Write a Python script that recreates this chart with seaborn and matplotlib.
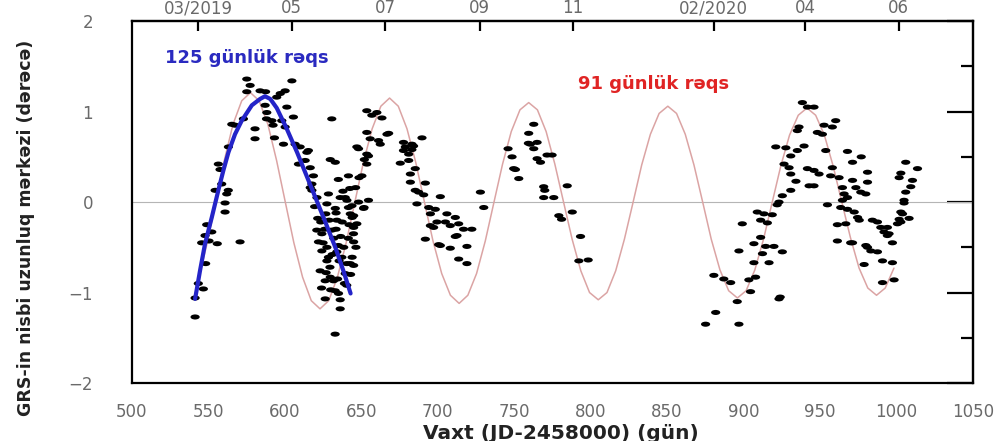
import matplotlib
matplotlib.use("Agg")
import matplotlib.pyplot as plt
import seaborn as sns
from matplotlib.path import Path
from matplotlib.transforms import Affine2D
from matplotlib.ticker import MultipleLocator

obs_x = [
    541.3, 541.3, 543.4, 546.7, 548.2, 545.6, 547.8, 548.9, 550.4, 552.2, 555.8, 570.7,
    554.4, 558.7, 563.0, 562.0, 560.9, 560.9, 556.5, 557.6, 563.1, 565.3, 567.4, 572.9,
    575.1, 577.3, 575.1, 583.8, 587.4, 594.7, 600.2, 587.1, 588.2, 591.5, 588.0, 592.3,
    580.5, 580.5, 593.2, 599.1, 604.6, 597.0, 601.3, 605.6, 600.2, 598.0, 610.0, 614.4,
    608.9, 616.6, 617.7, 617.7, 606.7, 613.3, 615.4, 618.7, 616.6,
    # dense cluster around 620-660
    630.7, 629.7, 633.0, 641.6, 647.1, 653.6, 655.8, 654.7, 653.6, 648.5, 651.8, 646.3,
    639.5, 641.6, 644.0, 645.0, 645.0, 644.0, 645.0, 639.5, 628.5, 627.5, 626.8, 633.0,
    634.0, 630.7, 624.2, 622.0, 624.2, 635.0, 637.3, 628.5, 623.1, 626.4, 629.7, 632.9,
    635.1, 626.4, 636.2, 636.2, 632.9, 631.8, 640.5, 627.5, 642.8, 634.0, 644.9, 620.9,
    647.1, 636.2, 640.6, 643.9, 648.2, 651.5, 654.7, 642.8, 645.0, 650.4, 656.9, 653.6,
    662.4, 666.8, 653.6, 648.2, 652.0, 619.5, 621.5, 623.5, 625.0, 626.0, 627.5, 629.0,
    629.5, 631.0, 632.0, 633.5, 634.5, 635.5, 636.5, 637.5, 638.5, 639.0, 640.5, 641.5,
    642.0, 643.0, 646.5, 624.0, 627.0, 630.0, 633.5, 638.0, 642.5, 635.0, 621.0,
    # descending branch 660-730
    660.2, 663.5, 667.9, 661.3, 677.6, 683.1, 689.7, 677.6, 683.1, 675.5, 681.0, 685.3,
    682.1, 682.1, 685.3, 691.9, 690.8, 686.4, 701.7, 694.1, 698.4, 695.2, 699.5, 695.2,
    691.9, 700.6, 706.0, 711.5, 708.2, 713.7, 711.5, 722.3, 708.2, 719.1, 713.7, 719.1,
    727.9, 730.1, 678.8, 684.2, 681.0, 687.5, 697.3, 705.0, 716.9, 701.7, 712.6,
    # 740-800
    746.0, 748.6, 750.8, 753.0, 762.8, 759.5, 762.8, 760.6, 765.0, 759.3, 765.0, 767.2,
    771.5, 774.8, 769.3, 770.0, 769.3, 775.9, 784.7, 779.2, 781.0, 788.0, 793.4, 792.3,
    798.4, 749.7,
    # 870-930
    909.0, 913.4, 918.8, 911.2, 915.6, 899.2, 911.2, 906.8, 914.5, 919.9, 912.4, 925.4,
    897.0, 906.8, 916.7, 880.6, 887.1, 891.6, 903.5, 907.9, 904.6, 895.9, 923.2, 881.8,
    875.2, 897.0, 924.0,
    # 920-1015
    938.5, 936.3, 935.2, 941.8, 921.1, 927.7, 930.9, 935.2, 939.6, 926.5, 929.8, 930.9,
    934.3, 930.9, 925.4, 923.2, 922.0, 941.8, 942.9, 946.1, 960.3, 952.7, 958.1, 948.3,
    951.6, 968.0, 977.0, 971.3, 953.8, 946.1, 949.4, 958.1, 957.0, 962.5, 946.1, 981.1,
    981.1, 971.3, 964.7, 973.5, 976.7, 980.0, 965.8, 968.0, 964.7, 954.9, 963.6, 968.0,
    972.4, 974.6, 975.7, 961.4, 966.9, 984.3, 987.6, 989.8, 994.1, 991.9, 994.1, 961.4,
    971.3, 981.1, 983.3, 987.6, 997.4, 978.9, 990.9, 997.4, 990.9, 998.5, 970.1, 980.0,
    995.2, 1002.9, 1006.1, 1013.8, 1001.8, 1010.5, 1009.4, 1006.1, 1005.0, 1005.0,
    1002.9, 1004.0, 1008.3, 1001.8, 1000.7, 1002.9,
]
obs_y = [
    -1.27, -1.06, -0.90, -0.96, -0.68, -0.45, -0.37, -0.25, -0.43, -0.33, -0.46, -0.44,
    0.13, 0.20, 0.13, 0.09, -0.01, -0.11, 0.42, 0.36, 0.61, 0.86, 0.85, 0.92,
    1.36, 1.29, 1.22, 1.23, 1.22, 1.16, 1.23, 1.07, 0.99, 0.90, 0.92, 0.85,
    0.81, 0.70, 0.71, 0.64, 1.34, 1.20, 1.05, 0.94, 0.83, 0.90, 0.61, 0.55,
    0.42, 0.38, 0.20, 0.13, 0.64, 0.46, 0.57, 0.29, 0.16,
    0.92, 0.47, 0.44, 0.29, 0.61, 1.01, 0.70, 0.51, 0.42, 0.27, -0.06, 0.16,
    0.05, -0.06, -0.17, -0.28, -0.44, -0.61, -0.70, -0.79, 0.09, -0.02, -0.13, -0.07,
    -0.20, -0.31, -0.35, -0.44, -0.54, -0.48, -0.61, -0.61, -0.76, -0.87, -0.83, -0.98,
    -1.01, -1.07, -1.08, -1.18, -1.46, -0.87, -0.92, -0.65, -0.68, -0.55, -0.35, -0.31,
    -0.24, 0.05, 0.02, -0.04, 0.00, -0.07, 0.02, -0.13, -0.15, 0.29, 0.96, 0.77,
    0.64, 0.75, 0.53, 0.59, 0.47, -0.05, -0.18, -0.22, -0.45, -0.30, -0.50, -0.20,
    -0.72, -0.58, -0.40, -0.30, -0.85, -0.65, -0.38, -0.22, -0.50, -0.90, -0.68, -0.40,
    -0.25, -0.80, -0.50, -0.95, -0.78, -0.97, -0.12, 0.12, 0.15, 0.25, 0.05,
    0.99, 0.93, 0.76, 0.68, 0.66, 0.64, 0.71, 0.57, 0.58, 0.43, 0.46, 0.37,
    0.31, 0.22, 0.13, 0.21, 0.08, -0.02, 0.06, -0.06, -0.08, -0.13, -0.22, -0.26,
    -0.41, -0.47, -0.13, -0.17, -0.26, -0.24, -0.38, -0.30, -0.51, -0.49, -0.63, -0.68,
    0.11, -0.06, 0.61, 0.62, 0.53, 0.11, -0.28, -0.22, -0.30, -0.48, -0.37,
    0.59, 0.50, 0.36, 0.26, 0.86, 0.76, 0.59, 0.64, 0.66, 0.65, 0.48, 0.44,
    0.52, 0.52, 0.17, 0.13, 0.05, 0.05, 0.18, -0.15, -0.19, -0.11, -0.38, -0.65,
    -0.64, 0.37,
    -0.11, -0.13, -0.14, -0.20, -0.23, -0.24, -0.39, -0.46, -0.49, -0.49, -0.57, -0.55,
    -0.54, -0.67, -0.67, -0.81, -0.85, -0.89, -0.86, -0.83, -0.99, -1.10, -1.07, -1.22,
    -1.35, -1.35, -1.05,
    1.10, 0.83, 0.79, 1.05, 0.61, 0.60, 0.51, 0.57, 0.62, 0.42, 0.38, 0.31,
    0.23, 0.13, 0.07, 0.00, -0.03, 0.37, 0.18, 1.05, 0.90, 0.85, 0.83, 0.77,
    0.75, 0.56, 0.50, 0.44, 0.57, 0.35, 0.31, 0.38, 0.29, 0.27, 0.18, 0.33,
    0.22, 0.24, 0.16, 0.16, 0.11, 0.09, 0.09, 0.05, 0.02, -0.03, -0.06, -0.08,
    -0.11, -0.17, -0.20, -0.25, -0.24, -0.20, -0.22, -0.28, -0.28, -0.33, -0.37, -0.43,
    -0.45, -0.50, -0.54, -0.55, -0.45, -0.69, -0.65, -0.67, -0.89, -0.86, -0.45, -0.48,
    -0.35, -0.22, 0.44, 0.37, 0.27, 0.24, 0.17, 0.11, 0.02, -0.01,
    -0.11, -0.13, -0.18, -0.19, -0.24, 0.32,
]

# 125-day oscillation (blue)
wave125_x = [541.3, 544.5, 547.8, 552.2, 556.5, 559.8, 563.1, 567.4, 571.8, 578.4,
             583.8, 587.0, 590.5, 594.7, 601.0, 608.0, 614.0, 620.0, 626.0, 633.0,
             638.5, 643.0]
wave125_y = [-1.07, -0.76, -0.46, -0.17, 0.13, 0.35, 0.55, 0.75, 0.90, 1.07,
             1.14, 1.17, 1.14, 1.04, 0.82, 0.55, 0.30, 0.05, -0.20, -0.50,
             -0.77, -1.01]

# 91-day oscillation (pink)
wave91_x = [543.4, 549.1, 554.8, 560.4, 566.1, 571.8, 577.5, 583.2, 588.9, 594.6,
            600.3, 605.9, 611.6, 617.3, 623.0, 628.7, 634.4, 640.1, 645.8, 651.4,
            657.1, 662.8, 668.5, 674.2, 679.9, 685.6, 691.3, 696.9, 702.6, 708.3,
            714.0, 719.7, 725.4, 731.1, 736.8, 742.4, 748.1, 753.8, 759.5, 765.2,
            770.9, 776.6, 782.3, 787.9, 793.6, 799.3, 805.0, 810.7, 816.4, 822.1,
            827.8, 833.4, 839.1, 844.8, 850.5, 856.2, 861.9, 867.6, 873.3, 878.9,
            884.6, 890.3, 896.0, 901.7, 907.4, 913.1, 918.8, 924.4, 930.1, 935.8,
            941.5, 947.2, 952.9, 958.6, 964.3, 969.9, 975.6, 981.3, 987.0, 992.7,
            998.4]
wave91_y = [-0.86, -0.46, 0.00, 0.46, 0.86, 1.12, 1.21, 1.12, 0.86, 0.46,
            0.00, -0.45, -0.83, -1.09, -1.18, -1.09, -0.83, -0.45, 0.00, 0.44,
            0.81, 1.06, 1.15, 1.06, 0.81, 0.44, 0.00, -0.43, -0.79, -1.03,
            -1.12, -1.03, -0.79, -0.43, 0.00, 0.42, 0.78, 1.02, 1.10, 1.02,
            0.78, 0.42, 0.00, -0.41, -0.76, -1.00, -1.08, -1.00, -0.76, -0.41,
            0.00, 0.41, 0.75, 0.98, 1.06, 0.98, 0.75, 0.41, 0.00, -0.41,
            -0.75, -0.98, -1.06, -0.98, -0.75, -0.41, 0.00, 0.40, 0.74, 0.96,
            1.04, 0.96, 0.74, 0.40, 0.00, -0.39, -0.73, -0.95, -1.03, -0.95,
            -0.73]

# top axis: first day of months in JD-2458000
month_jd = [543.5, 604.5, 665.5, 727.5, 788.5, 880.5, 940.5, 1001.5]
month_labels = ["03/2019", "05", "07", "09", "11", "02/2020", "04", "06"]

sns.set_style("white")
plt.rcParams["font.family"] = ["DejaVu Sans"]
gray = "#6a6a6a"

fig, ax = plt.subplots(figsize=(10.05, 4.41), dpi=100)
fig.subplots_adjust(left=0.1313, right=0.968, top=0.952, bottom=0.1315)

# small horizontal dash used as data marker
dash = Path.unit_circle().transformed(Affine2D().scale(1.0, 0.55))

ax.axhline(0, color="#b5b5b5", lw=0.8, zorder=1)
sns.lineplot(x=wave91_x, y=wave91_y, color="#dba4a4", lw=1.1, sort=False,
             estimator=None, ax=ax, zorder=2)
sns.scatterplot(x=obs_x, y=obs_y, marker=dash, s=44, color="black",
                edgecolor="none", linewidth=0, ax=ax, zorder=3)
sns.lineplot(x=wave125_x, y=wave125_y, color="#2424c8", lw=3.0, sort=False,
             estimator=None, ax=ax, zorder=4)

ax.text(521.5, 1.59, "125 günlük rəqs", color="#2a2ac0", fontsize=13,
        fontweight="bold", ha="left", va="center")
ax.text(792, 1.30, "91 günlük rəqs", color="#e02424", fontsize=13,
        fontweight="bold", ha="left", va="center")

ax.set_xlim(500, 1050)
ax.set_ylim(-2, 2)
ax.xaxis.set_major_locator(MultipleLocator(50))
ax.xaxis.set_minor_locator(MultipleLocator(25))
ax.yaxis.set_major_locator(MultipleLocator(1))
ax.yaxis.set_minor_locator(MultipleLocator(0.5))

ax.tick_params(axis="x", which="major", direction="out", length=8.5, width=1.6,
               color="black", labelsize=12, labelcolor=gray, pad=6, top=False)
ax.tick_params(axis="x", which="minor", direction="out", length=4.5, width=1.6,
               color="black", top=False)
ax.tick_params(axis="y", which="major", direction="out", length=19, width=1.6,
               color="black", labelsize=12, labelcolor=gray, pad=9, right=False)
ax.tick_params(axis="y", which="minor", direction="out", length=8.5, width=1.6,
               color="black", right=False)
for sp in ax.spines.values():
    sp.set_color("black")
    sp.set_linewidth(1.6)

top = ax.secondary_xaxis("top")
top.set_xticks(month_jd, labels=month_labels)
top.tick_params(direction="in", length=7, width=1.6, color="black",
                labelsize=12, labelcolor=gray, pad=3)
top.spines["top"].set_linewidth(1.6)

right = ax.secondary_yaxis("right")
right.yaxis.set_major_locator(MultipleLocator(1))
right.yaxis.set_minor_locator(MultipleLocator(0.5))
right.tick_params(which="major", direction="in", length=19, width=1.6,
                  color="black", labelright=False)
right.tick_params(which="minor", direction="in", length=9, width=1.6,
                  color="black")
right.spines["right"].set_linewidth(1.6)

ax.set_xlabel("Vaxt (JD-2458000) (gün)", fontsize=14.5, fontweight="bold",
              color="#222222")
ax.xaxis.set_label_coords(0.51, -0.112)
ax.set_ylabel("GRS-in nisbi uzunluq mərkəzi (dərəcə)", fontsize=12.5,
              fontweight="bold", color="#222222")
ax.yaxis.set_label_coords(-0.115, 0.43)

fig.savefig("out.png", dpi=100)
